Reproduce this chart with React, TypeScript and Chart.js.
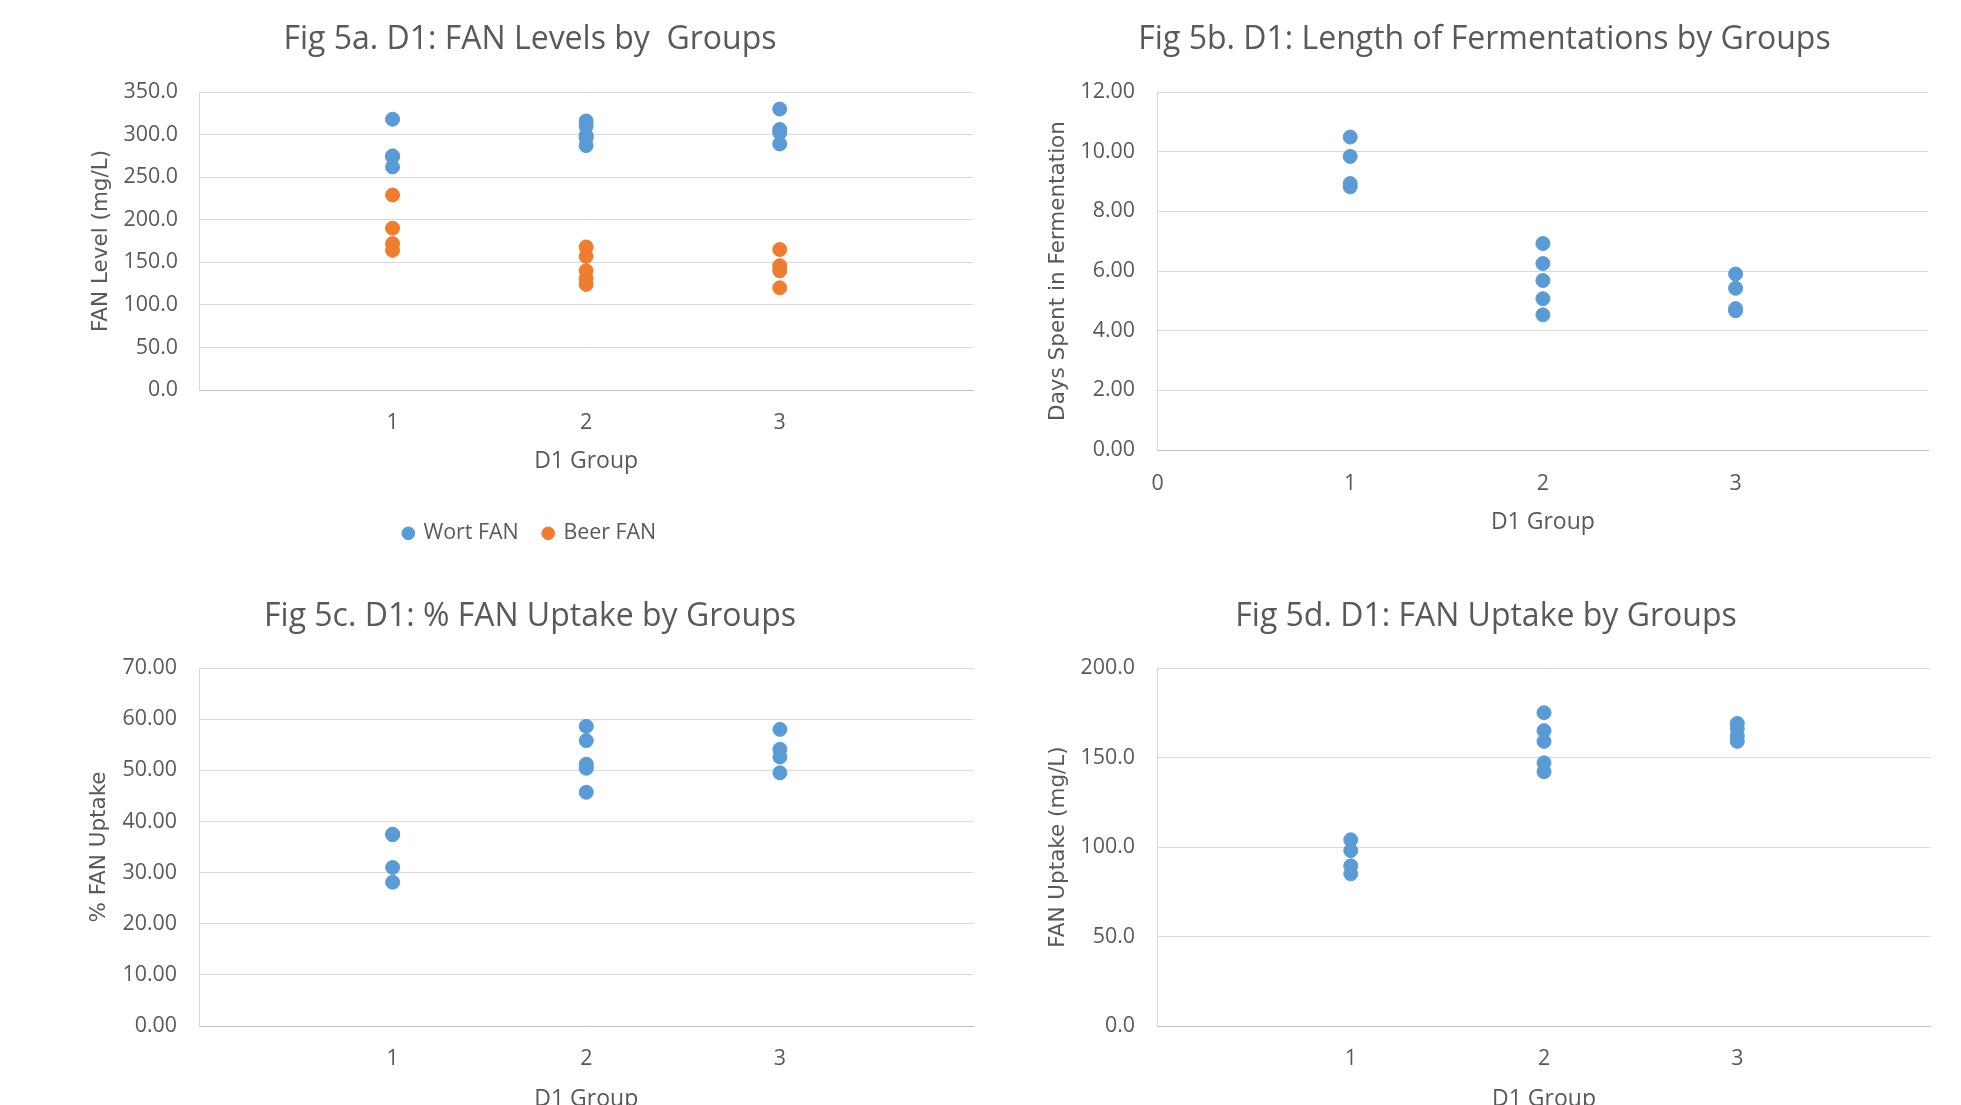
import React, { useEffect, useRef } from 'react';
import { Chart, registerables } from 'chart.js';

Chart.register(...registerables);

// ---------- data ----------
const GROUPS = [1, 2, 3];
const X_TICKS_A = ['1', '2', '3'];
const X_TICKS_B = ['0', '1', '2', '3'];

const WORT_FAN = [
  [318, 275, 274, 262],
  [316, 310, 299, 296, 287],
  [330, 306, 302, 289],
];
const BEER_FAN = [
  [229, 190, 172, 164],
  [168, 157, 140, 131, 124],
  [165, 146, 140, 120],
];
const DAYS_FERMENT = [
  [10.49, 9.84, 8.93, 8.82],
  [6.92, 6.25, 5.68, 5.07, 4.53],
  [5.9, 5.42, 4.74, 4.67],
];
const PCT_UPTAKE = [
  [37.5, 37.4, 31.0, 28.1],
  [58.6, 55.8, 51.2, 50.4, 45.7],
  [58.0, 54.1, 52.6, 49.5],
];
const FAN_UPTAKE = [
  [104, 98, 89.5, 85],
  [175, 165, 159, 147, 142],
  [169, 166, 162, 159],
];

const Y_TICKS_A = [0, 50, 100, 150, 200, 250, 300, 350];
const Y_TICKS_B = [0, 2, 4, 6, 8, 10, 12];
const Y_TICKS_C = [0, 10, 20, 30, 40, 50, 60, 70];
const Y_TICKS_D = [0, 50, 100, 150, 200];

const BLUE = '#5B9BD5';
const ORANGE = '#ED7D31';
const TEXT = '#595959';
const GRID = '#D9D9D9';
const AXIS = '#BFBFBF';

function toPoints(groups: number[][]) {
  const pts: { x: number; y: number }[] = [];
  groups.forEach((vals, i) => vals.forEach((v) => pts.push({ x: GROUPS[i], y: v })));
  return pts;
}

type Spec = {
  left: number; top: number; width: number; height: number;
  title: string; yTitle: string; yTitlePad: number;
  yTicks: number[]; dec: number; yW: number; yTickPad: number;
  xLabels: string[]; xH: number; xTickPad: number; xTitleBottom: number;
  titleTop: number; titleBottom: number;
  series: { label: string; values: number[][]; color: string }[];
  legend: boolean;
};

function makeConfig(p: Spec): any {
  const step = p.yTicks[1] - p.yTicks[0];
  return {
    type: 'scatter',
    data: {
      datasets: p.series.map((s) => ({
        label: s.label,
        data: toPoints(s.values),
        backgroundColor: s.color,
        borderColor: s.color,
        pointRadius: 7,
        pointHoverRadius: 7,
        pointBorderWidth: 1,
        pointStyle: 'circle',
      })),
    },
    options: {
      animation: false,
      responsive: false,
      maintainAspectRatio: false,
      events: [],
      layout: { padding: { left: 0, right: 0, top: 0, bottom: 0 } },
      plugins: {
        title: {
          display: true,
          text: p.title,
          color: TEXT,
          font: { family: 'Open Sans', size: 32, weight: 'normal', lineHeight: 1.2 },
          padding: { top: p.titleTop, bottom: p.titleBottom },
        },
        legend: p.legend
          ? {
              display: true,
              position: 'bottom',
              labels: {
                usePointStyle: true,
                boxWidth: 9,
                boxHeight: 9,
                padding: 25,
                color: TEXT,
                font: { family: 'Open Sans', size: 21.4 },
              },
            }
          : { display: false },
        tooltip: { enabled: false },
      },
      scales: {
        x: {
          type: 'linear',
          min: 0,
          max: 4,
          afterFit: (s: any) => { s.height = p.xH; },
          grid: { display: false, drawTicks: false, tickLength: 0 },
          border: { display: true, color: AXIS, width: 1 },
          ticks: {
            stepSize: 1,
            padding: p.xTickPad,
            color: TEXT,
            font: { family: 'Open Sans', size: 21.4, lineHeight: 1.2 },
            maxRotation: 0,
            callback: (v: any) => (p.xLabels.includes(String(v)) ? String(v) : ''),
          },
          title: {
            display: true,
            text: 'D1 Group',
            color: TEXT,
            font: { family: 'Open Sans', size: 23, lineHeight: 1.2 },
            padding: { top: 0, bottom: p.xTitleBottom },
          },
        },
        y: {
          type: 'linear',
          min: p.yTicks[0],
          max: p.yTicks[p.yTicks.length - 1],
          afterFit: (s: any) => { s.width = p.yW; },
          grid: { color: GRID, lineWidth: 1, drawTicks: false, tickLength: 0 },
          border: { display: true, color: GRID, width: 1 },
          ticks: {
            stepSize: step,
            padding: p.yTickPad,
            color: TEXT,
            font: { family: 'Open Sans', size: 21.4, lineHeight: 1.2 },
            callback: (v: any) => Number(v).toFixed(p.dec),
          },
          title: {
            display: true,
            text: p.yTitle,
            color: TEXT,
            font: { family: 'DejaVu Sans', size: 21.5, lineHeight: 1.2 },
            padding: { top: p.yTitlePad, bottom: 0 },
          },
        },
      },
    },
  };
}

function ChartBox({ spec }: { spec: Spec }) {
  const ref = useRef<HTMLCanvasElement | null>(null);
  useEffect(() => {
    if (!ref.current) return;
    const chart = new Chart(ref.current, makeConfig(spec));
    return () => chart.destroy();
  }, [spec]);
  return (
    <div style={{ position: 'absolute', left: spec.left, top: spec.top, width: spec.width, height: spec.height }}>
      <canvas ref={ref} width={spec.width} height={spec.height} style={{ width: spec.width, height: spec.height, display: 'block' }} />
    </div>
  );
}

const SPECS: Spec[] = [
  {
    left: 67, top: 0, width: 926, height: 554,
    title: 'Fig 5a. D1: FAN Levels by  Groups',
    yTitle: 'FAN Level (mg/L)', yTitlePad: 21.1,
    yTicks: Y_TICKS_A, dec: 1, yW: 132, yTickPad: 21,
    xLabels: X_TICKS_A, xH: 107.6, xTickPad: 19.7, xTitleBottom: 22.3,
    titleTop: 20.3, titleBottom: 33.3,
    series: [
      { label: 'Wort FAN', values: WORT_FAN, color: BLUE },
      { label: 'Beer FAN', values: BEER_FAN, color: ORANGE },
    ],
    legend: true,
  },
  {
    left: 1020, top: 0, width: 929, height: 550,
    title: 'Fig 5b. D1: Length of Fermentations by Groups',
    yTitle: 'Days Spent in Fermentation', yTitlePad: 25.1,
    yTicks: Y_TICKS_B, dec: 2, yW: 137.5, yTickPad: 22.5,
    xLabels: X_TICKS_B, xH: 100, xTickPad: 20.7, xTitleBottom: 13.7,
    titleTop: 20.3, titleBottom: 33.3,
    series: [{ label: 'Days', values: DAYS_FERMENT, color: BLUE }],
    legend: false,
  },
  {
    left: 66, top: 560, width: 928, height: 566,
    title: 'Fig 5c. D1: % FAN Uptake by Groups',
    yTitle: '% FAN Uptake', yTitlePad: 20.1,
    yTicks: Y_TICKS_C, dec: 2, yW: 133, yTickPad: 22,
    xLabels: X_TICKS_A, xH: 100, xTickPad: 20.45, xTitleBottom: 13,
    titleTop: 37.3, titleBottom: 32.3,
    series: [{ label: '% FAN Uptake', values: PCT_UPTAKE, color: BLUE }],
    legend: false,
  },
  {
    left: 1021, top: 560, width: 930, height: 566,
    title: 'Fig 5d. D1: FAN Uptake by Groups',
    yTitle: 'FAN Uptake (mg/L)', yTitlePad: 24.1,
    yTicks: Y_TICKS_D, dec: 1, yW: 136.5, yTickPad: 22.5,
    xLabels: X_TICKS_A, xH: 100, xTickPad: 20.45, xTitleBottom: 13,
    titleTop: 37.3, titleBottom: 32.3,
    series: [{ label: 'FAN Uptake', values: FAN_UPTAKE, color: BLUE }],
    legend: false,
  },
];

export default function App() {
  return (
    <div style={{ position: 'fixed', left: 0, top: 0, width: 1961, height: 1105, overflow: 'hidden', background: '#ffffff' }}>
      {SPECS.map((s, i) => (
        <ChartBox key={i} spec={s} />
      ))}
    </div>
  );
}
